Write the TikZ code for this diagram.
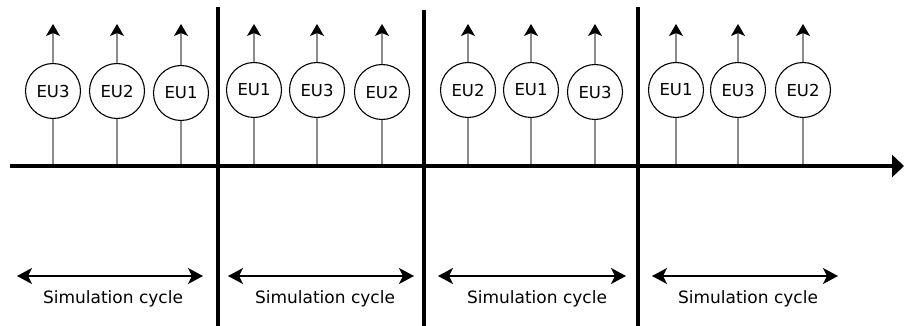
\documentclass[tikz,border=0pt]{standalone}
\usepackage{fontspec}
\setmainfont{DejaVu Sans}
\usetikzlibrary{arrows.meta}
\begin{document}
\begin{tikzpicture}[x=1pt,y=-1pt,
  eu/.style={circle,draw=black,line width=1.1pt,minimum size=55pt,inner sep=0pt,font=\fontsize{16.5}{20}\selectfont},
  stem/.style={draw=black!45,line width=1.2pt},
  up/.style={stem,-{Stealth[length=12pt,width=14pt,inset=3pt,black]}},
  axis/.style={line width=4pt,-{Triangle[length=12pt,width=22pt]}},
  sep/.style={line width=4pt},
  dbl/.style={line width=1.4pt,{Stealth[length=15pt,width=16pt,inset=4pt]}-{Stealth[length=15pt,width=16pt,inset=4pt]}},
  lbl/.style={font=\fontsize{17}{20}\selectfont,inner sep=0pt}
]
\useasboundingbox (0,0) rectangle (905,326);

\foreach \x/\y/\t/\n in {53/91/EU3/1,117/91/EU2/2,181/93/EU1/3,
                         254/90/EU1/4,317/90/EU3/5,382/92/EU2/6,
                         468/90/EU2/7,531/90/EU1/8,595/92/EU3/9,
                         676/90/EU1/10,738/90/EU3/11,803/90/EU2/12}{
  \node[eu] (c\n) at (\x,\y) {\t};
  \coordinate (tip\n) at (\x,24);
  \coordinate (base\n) at (\x,166);
  \draw[up] (c\n.north) -- (tip\n);
  \draw[stem] (c\n.south) -- (base\n);
}

% time axis
\coordinate (axL) at (10,166);
\coordinate (axR) at (904,166);
\draw[axis] (axL) -- (axR);

% separators
\coordinate (s1t) at (218,7);   \coordinate (s1b) at (218,326);
\coordinate (s2t) at (424,10);  \coordinate (s2b) at (424,326);
\coordinate (s3t) at (638,7);   \coordinate (s3b) at (638,326);
\draw[sep] (s1t) -- (s1b);
\draw[sep] (s2t) -- (s2b);
\draw[sep] (s3t) -- (s3b);

% simulation cycles
\foreach \l/\r/\m/\n in {17/203/113/1,228/414/325/2,438/626/537/3,652/838/748/4}{
  \coordinate (a\n l) at (\l,276);
  \coordinate (a\n r) at (\r,276);
  \draw[dbl] (a\n l) -- (a\n r);
  \node[lbl] (t\n) at (\m,299) {Simulation cycle};
}
\end{tikzpicture}
\end{document}
